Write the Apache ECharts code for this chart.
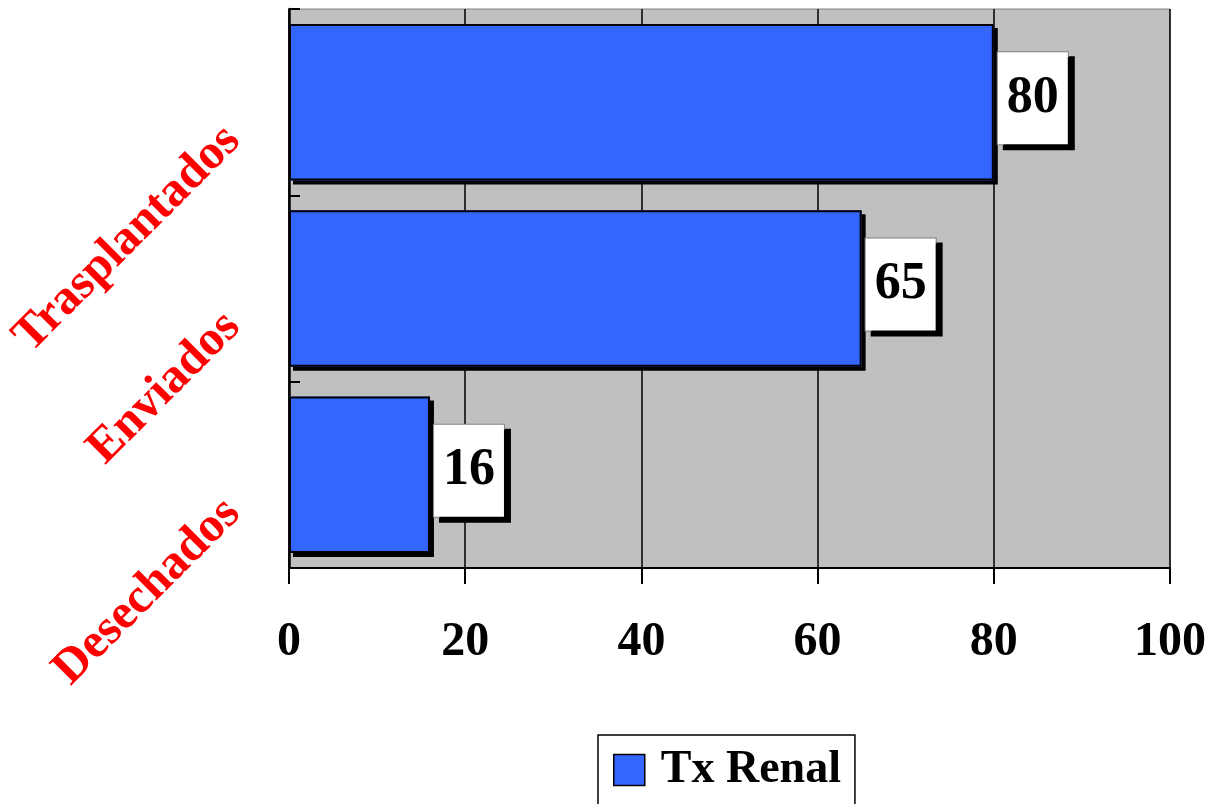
<!DOCTYPE html>
<html>
<head>
<meta charset="utf-8">
<script src="https://cdn.jsdelivr.net/npm/echarts@6/dist/echarts.min.js"></script>
<style>
html,body{margin:0;padding:0;background:#fff;}
#chart{width:1210px;height:804px;}
</style>
</head>
<body>
<div id="chart"></div>
<script>
const categories = ['Desechados', 'Enviados', 'Trasplantados'];
const seriesName = 'Tx Renal';
const values = [16, 65, 80];
const xTicks = [0, 20, 40, 60, 80, 100];

const FONT = '"Liberation Serif", "Times New Roman", serif';
const chart = echarts.init(document.getElementById('chart'));
chart.setOption({
  animation: false,
  backgroundColor: '#ffffff',
  grid: {
    left: 289, right: 40, top: 9, bottom: 236,
    containLabel: false, outerBoundsMode: 'none',
    show: true, backgroundColor: '#C0C0C0', borderColor: '#808080', borderWidth: 1
  },
  xAxis: {
    type: 'value', min: xTicks[0], max: xTicks[xTicks.length - 1], interval: 20,
    axisLine: { show: true, lineStyle: { color: '#000', width: 2 } },
    axisTick: { show: true, inside: false, length: 16, lineStyle: { color: '#000', width: 2 } },
    splitLine: { show: true, lineStyle: { color: '#000', width: 1.5 } },
    axisLabel: { margin: 51, fontFamily: FONT, fontWeight: 'bold', fontSize: 48, color: '#000' }
  },
  yAxis: [{
    type: 'category', data: categories,
    axisLine: { show: true, lineStyle: { color: '#000', width: 2.5 } },
    axisTick: { show: true, inside: true, length: 11, lineStyle: { color: '#000', width: 2 } },
    axisLabel: {
      rotate: 45, margin: 25, interval: 0,
      fontFamily: FONT, fontWeight: 'bold', fontSize: 49, color: '#FF0000',
      padding: [58, 44, 0, 0]
    }
  }, {
    type: 'category', data: categories, position: 'left', offset: 0,
    axisLine: { show: false },
    axisTick: { show: true, inside: true, alignWithLabel: true, length: 8, lineStyle: { color: '#000', width: 2 } },
    axisLabel: { show: false }
  }],
  legend: {
    left: 598, top: 735,
    padding: [12, 14, 20, 15],
    backgroundColor: '#fff', borderColor: '#000', borderWidth: 1.5,
    itemWidth: 31, itemHeight: 31,
    icon: 'rect',
    itemStyle: { color: '#3366FF', borderColor: '#000', borderWidth: 1.5, shadowBlur: 0, shadowOffsetX: 0, shadowOffsetY: 0, shadowColor: 'rgba(0,0,0,0)' },
    textStyle: { fontFamily: FONT, fontWeight: 'bold', fontSize: 46, color: '#000', padding: [0, 0, 0, 11] },
    data: [seriesName]
  },
  series: [{
    name: seriesName, type: 'bar', data: values, barCategoryGap: '16%', z: 2,
    itemStyle: { color: '#3366FF', borderWidth: 0, shadowColor: '#000', shadowBlur: 0, shadowOffsetX: 4, shadowOffsetY: 4 }
  }, {
    name: seriesName, type: 'bar', data: values, barCategoryGap: '16%', barGap: '-100%', z: 3,
    itemStyle: { color: '#3366FF', borderColor: '#000', borderWidth: 2 },
    label: {
      show: true, position: 'right', distance: 4, offset: [0, -4],
      fontFamily: FONT, fontWeight: 'bold', fontSize: 52, color: '#000', lineHeight: 52,
      backgroundColor: '#fff', borderColor: '#808080', borderWidth: 1,
      padding: [20, 9, 20, 9],
      shadowColor: '#000', shadowBlur: 0, shadowOffsetX: 6, shadowOffsetY: 5
    }
  }]
});
</script>
</body>
</html>
